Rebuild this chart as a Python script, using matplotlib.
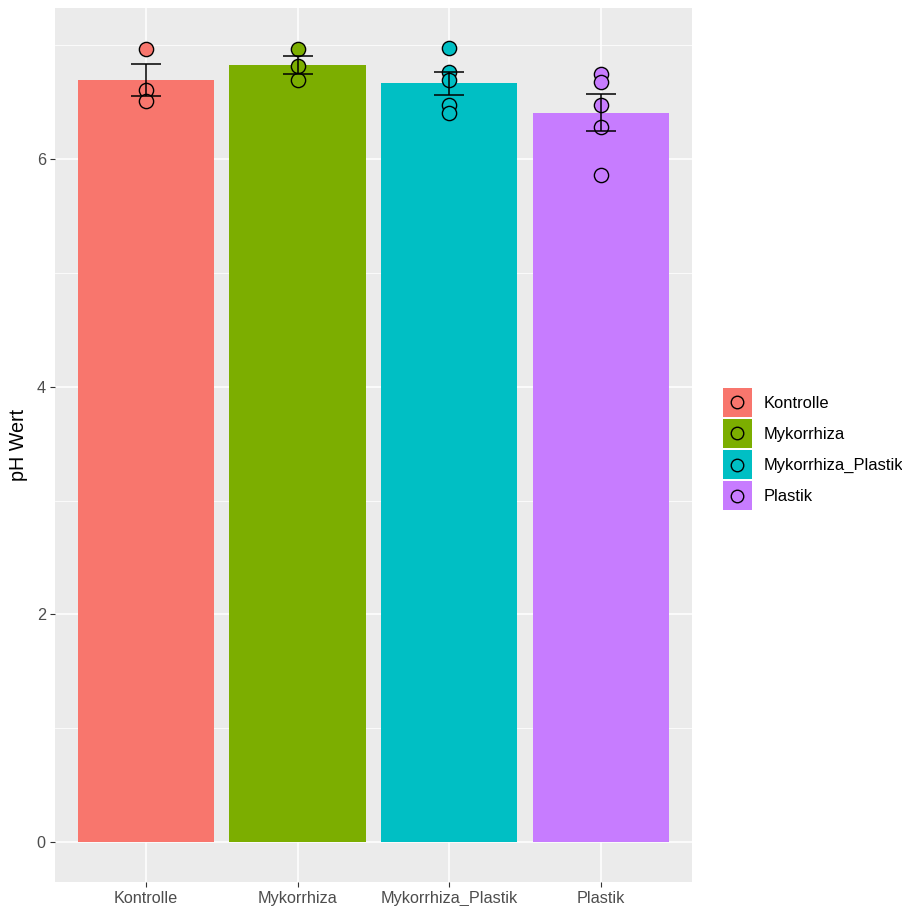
import numpy as np
import matplotlib
matplotlib.use("Agg")
matplotlib.rcParams["font.family"] = ["Liberation Sans", "DejaVu Sans"]
import matplotlib.pyplot as plt
from matplotlib.patches import Rectangle
from matplotlib.lines import Line2D
from matplotlib.legend_handler import HandlerBase

# pH-Werte je Behandlung
groups = ["Kontrolle", "Mykorrhiza", "Mykorrhiza_Plastik", "Plastik"]
ph_kontrolle = [6.97, 6.61, 6.51]
ph_mykorrhiza = [6.97, 6.82, 6.70]
ph_myk_plastik = [6.98, 6.77, 6.70, 6.48, 6.41]
ph_plastik = [6.75, 6.68, 6.48, 6.28, 5.86]
colors = ["#F8766D", "#7CAE00", "#00BFC4", "#C77CFF"]

values = [ph_kontrolle, ph_mykorrhiza, ph_myk_plastik, ph_plastik]
means = np.array([np.mean(v) for v in values])
se = np.array([np.std(v, ddof=1) / np.sqrt(len(v)) for v in values])
x = np.arange(len(groups))


class KeyHandler(HandlerBase):
    # ggplot-artiger Legendenschlüssel: Farbfläche + Kreis in der Mitte
    def create_artists(self, legend, orig_handle, xdescent, ydescent,
                       width, height, fontsize, trans):
        c = orig_handle.get_markerfacecolor()
        r = Rectangle((-xdescent, -ydescent), width, height, facecolor=c,
                      edgecolor="none", transform=trans)
        m = Line2D([-xdescent + width / 2], [-ydescent + height / 2], marker="o",
                   ls="none", markersize=9, markerfacecolor=c,
                   markeredgecolor="black", markeredgewidth=1.0, transform=trans)
        return [r, m]


fig = plt.figure(figsize=(9.03, 9.06), dpi=100)
ax = fig.add_axes([55 / 903, 1 - 881.7 / 906, (691.7 - 55) / 903, (881.7 - 8) / 906])
ax.set_facecolor("#EBEBEB")
for s in ax.spines.values():
    s.set_visible(False)

ax.bar(x, means, width=0.9, color=colors, zorder=2)
for i, v in enumerate(values):
    ax.scatter([x[i]] * len(v), v, s=105, color=colors[i], edgecolor="black",
               linewidth=1.0, zorder=3)
ax.errorbar(x, means, yerr=se, fmt="none", ecolor="black", elinewidth=1.1,
            capsize=10.8, capthick=1.1, zorder=4)

top = max(max(max(v) for v in values), (means + se).max())
pad = 0.05 * top
ax.set_ylim(-pad, top + pad)
ax.set_xlim(-0.6, len(groups) - 0.4)

ax.set_yticks([0, 2, 4, 6])
ax.set_yticks([1, 3, 5, 7], minor=True)
ax.set_xticks(x)
ax.set_xticklabels(groups)
ax.grid(which="major", color="white", lw=1.1, zorder=0)
ax.grid(which="minor", axis="y", color="white", lw=0.55, zorder=0)
ax.set_axisbelow(True)
ax.tick_params(which="major", length=3.6, width=0.8, color="#333333",
               labelcolor="#4D4D4D", labelsize=11.7, pad=3)
ax.tick_params(which="minor", length=0)
ax.set_ylabel("pH Wert", fontsize=14.2, labelpad=6)

handles = [Line2D([], [], marker="o", markerfacecolor=c) for c in colors]
fs = 11.9
leg = fig.legend(handles, groups, loc="center left",
                 bbox_to_anchor=(716 / 903, 1 - 449 / 906),
                 handler_map={Line2D: KeyHandler()},
                 frameon=False, fontsize=fs, handlelength=20.9 / fs,
                 handleheight=(20.9 / fs - 0.245) / 0.65,
                 labelspacing=0.12, handletextpad=0.75, borderaxespad=0)

fig.savefig("out.png", dpi=100)
